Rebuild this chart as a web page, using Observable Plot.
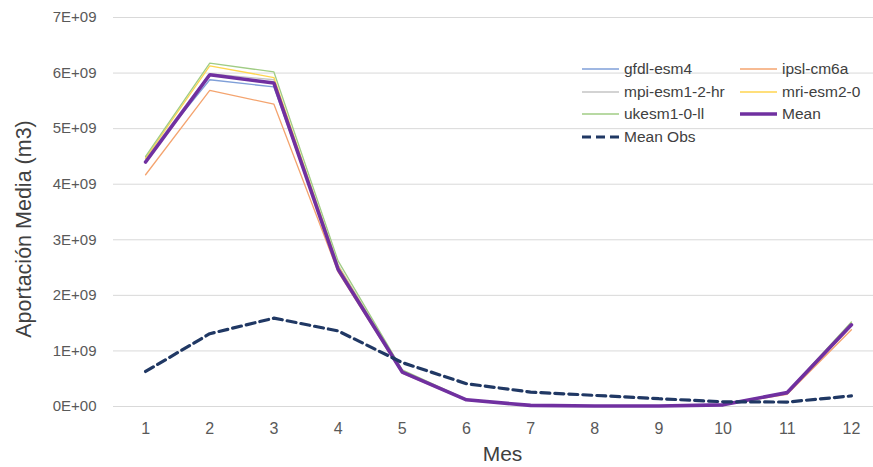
<!DOCTYPE html>
<html>
<head>
<meta charset="utf-8">
<script src="https://cdn.jsdelivr.net/npm/d3@7"></script>
<script src="https://cdn.jsdelivr.net/npm/@observablehq/plot@0.6"></script>
<style>
  html, body { margin: 0; padding: 0; background: #fff; }
  #wrap { position: relative; width: 873px; height: 467px; }
  #legend { position: absolute; left: 0; top: 0; font-family: "Liberation Sans", Arial, sans-serif; font-size: 15.5px; color: #404040; }
  .item { position: absolute; display: flex; align-items: center; height: 20px; white-space: nowrap; }
  .item svg { margin-right: 5px; }
</style>
</head>
<body>
<div id="wrap"><div id="legend"></div></div>
<script>
const months = [1, 2, 3, 4, 5, 6, 7, 8, 9, 10, 11, 12];
const gfdl = [4.46e9, 5.88e9, 5.75e9, 2.50e9, 0.63e9, 0.12e9, 0.02e9, 0.01e9, 0.01e9, 0.04e9, 0.24e9, 1.45e9];
const ipsl = [4.17e9, 5.69e9, 5.44e9, 2.42e9, 0.60e9, 0.11e9, 0.02e9, 0.01e9, 0.01e9, 0.03e9, 0.22e9, 1.38e9];
const mpi  = [4.46e9, 5.99e9, 5.88e9, 2.55e9, 0.64e9, 0.12e9, 0.02e9, 0.01e9, 0.01e9, 0.04e9, 0.25e9, 1.50e9];
const mri  = [4.47e9, 6.13e9, 5.92e9, 2.53e9, 0.63e9, 0.12e9, 0.02e9, 0.01e9, 0.01e9, 0.04e9, 0.25e9, 1.50e9];
const ukesm = [4.50e9, 6.18e9, 6.02e9, 2.62e9, 0.66e9, 0.13e9, 0.02e9, 0.01e9, 0.01e9, 0.04e9, 0.26e9, 1.52e9];
const meanModels = [4.40e9, 5.97e9, 5.82e9, 2.47e9, 0.62e9, 0.12e9, 0.02e9, 0.01e9, 0.01e9, 0.03e9, 0.25e9, 1.47e9];
const meanObs = [0.63e9, 1.31e9, 1.59e9, 1.36e9, 0.79e9, 0.41e9, 0.26e9, 0.20e9, 0.14e9, 0.085e9, 0.08e9, 0.19e9];

const yTicks = [0, 1e9, 2e9, 3e9, 4e9, 5e9, 6e9, 7e9];
const yTickLabels = ["0E+00", "1E+09", "2E+09", "3E+09", "4E+09", "5E+09", "6E+09", "7E+09"];

const seriesNames = ["gfdl-esm4", "ipsl-cm6a", "mpi-esm1-2-hr", "mri-esm2-0", "ukesm1-0-ll", "Mean", "Mean Obs"];
const seriesValues = [gfdl, ipsl, mpi, mri, ukesm, meanModels, meanObs];
const seriesColors = ["#7f9fd8", "#f4a46f", "#c4c4c4", "#ffd54f", "#a0cc84", "#7030a0", "#203864"];
const seriesWidths = [1.3, 1.3, 1.3, 1.3, 1.3, 3.6, 3.2];
const seriesDash = [null, null, null, null, null, null, "9,5"];

const rows = (k) => months.map((m, i) => ({month: m, value: seriesValues[k][i]}));

const marks = [
  Plot.gridY(yTicks, {stroke: "#d9d9d9", strokeOpacity: 1, strokeWidth: 1}),
  Plot.axisY(yTicks, {
    tickSize: 0, tickPadding: 17, fontSize: 15, fontFamily: "'Liberation Sans Narrow', 'Liberation Sans', sans-serif",
    fill: "#595959", label: null, tickFormat: (d, i) => yTickLabels[i]
  }),
  Plot.axisX(months, {
    tickSize: 0, tickPadding: 16, fontSize: 16, fontFamily: "'Liberation Sans', sans-serif",
    fill: "#595959", label: null, tickFormat: d => String(d)
  })
];
seriesNames.forEach((name, k) => {
  marks.push(Plot.line(rows(k), {
    x: "month", y: "value", stroke: seriesColors[k], strokeWidth: seriesWidths[k],
    strokeDasharray: seriesDash[k] || undefined, strokeLinejoin: "miter", curve: "linear"
  }));
});
marks.push(Plot.text(["Mes"], {
  frameAnchor: "bottom", dx: 9, dy: 48, fontSize: 21, fill: "#404040",
  fontFamily: "'Liberation Sans', sans-serif", lineAnchor: "middle", textAnchor: "middle"
}));
marks.push(Plot.text(["Aportación Media (m3)"], {
  frameAnchor: "left", rotate: -90, dx: -89, dy: 17, fontSize: 21.5, fill: "#404040",
  fontFamily: "'Liberation Sans', sans-serif", lineAnchor: "middle", textAnchor: "middle"
}));

const chart = Plot.plot({
  width: 873,
  height: 467,
  marginLeft: 113,
  marginRight: 0,
  marginTop: 17,
  marginBottom: 61,
  style: {background: "#fff", fontFamily: "'Liberation Sans', sans-serif"},
  x: {type: "linear", domain: [0.5, 12.5], range: [113, 883]},
  y: {domain: [0, 7e9]},
  marks
});
document.getElementById("wrap").prepend(chart);

// Legend (inside the plot area, top right)
const legendPos = [
  [582, 69], [740, 69],
  [582, 92], [740, 92],
  [582, 114], [740, 114],
  [582, 137]
];
const legend = document.getElementById("legend");
seriesNames.forEach((name, k) => {
  const div = document.createElement("div");
  div.className = "item";
  div.style.left = legendPos[k][0] + "px";
  div.style.top = (legendPos[k][1] - 10) + "px";
  const dash = seriesDash[k] ? ` stroke-dasharray="${seriesDash[k]}"` : "";
  div.innerHTML = `<svg width="37" height="10"><line x1="0" y1="5" x2="37" y2="5" stroke="${seriesColors[k]}" stroke-width="${seriesWidths[k]}"${dash}/></svg><span>${name}</span>`;
  legend.appendChild(div);
});
</script>
</body>
</html>
